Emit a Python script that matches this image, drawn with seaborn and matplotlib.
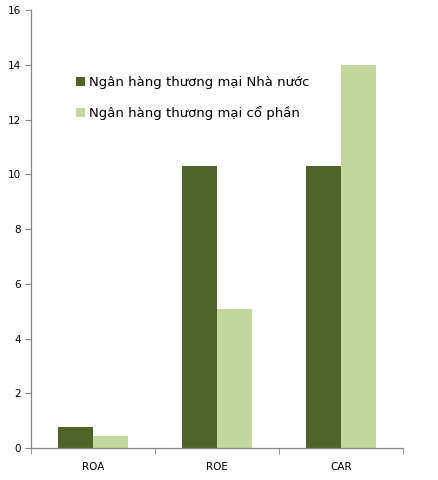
import pandas as pd
import matplotlib.pyplot as plt
import seaborn as sns

categories = ['ROA', 'ROE', 'CAR']
state_banks = [0.77, 10.3, 10.3]
joint_stock_banks = [0.44, 5.08, 14.0]
series_names = ['Ngân hàng thương mại Nhà nước', 'Ngân hàng thương mại cổ phần']
colors = ['#4F6228', '#C3D69B']

data = pd.DataFrame({
    'metric': categories * 2,
    'value': state_banks + joint_stock_banks,
    'bank': [series_names[0]] * 3 + [series_names[1]] * 3,
})

sns.set_style('white')
plt.rcParams['font.family'] = ['DejaVu Sans']

fig = plt.figure(figsize=(4.38, 4.8), dpi=100)
ax = fig.add_axes([0.0708, 0.0667, 0.849, 0.912])

sns.barplot(data=data, x='metric', y='value', hue='bank', palette=colors,
            width=0.565, gap=0, saturation=1, linewidth=0, ax=ax)

ax.set_ylim(0, 16)
ax.set_xlim(-0.5, 2.5)
ax.set_yticks(range(0, 17, 2))
ax.set_xlabel('')
ax.set_ylabel('')

for side in ['top', 'right']:
    ax.spines[side].set_visible(False)
for side in ['left', 'bottom']:
    ax.spines[side].set_color('#868686')
    ax.spines[side].set_linewidth(0.9)

ax.tick_params(axis='y', which='major', length=4, color='#868686', labelsize=7.5,
               labelcolor='black', pad=3, left=True)
ax.tick_params(axis='x', which='major', length=0, labelsize=7.5, labelcolor='black', pad=10)
ax.set_xticks([-0.5, 0.5, 1.5, 2.5], minor=True)
ax.tick_params(axis='x', which='minor', length=4, color='#868686', bottom=True)

leg = ax.legend(loc='upper left', bbox_to_anchor=(0.107, 0.862), frameon=False,
                fontsize=9.5, handlelength=0.7, handleheight=0.7,
                handletextpad=0.25, labelspacing=1.3, borderaxespad=0)
for t in leg.get_texts():
    t.set_color('black')

fig.savefig('out.png', dpi=100)
